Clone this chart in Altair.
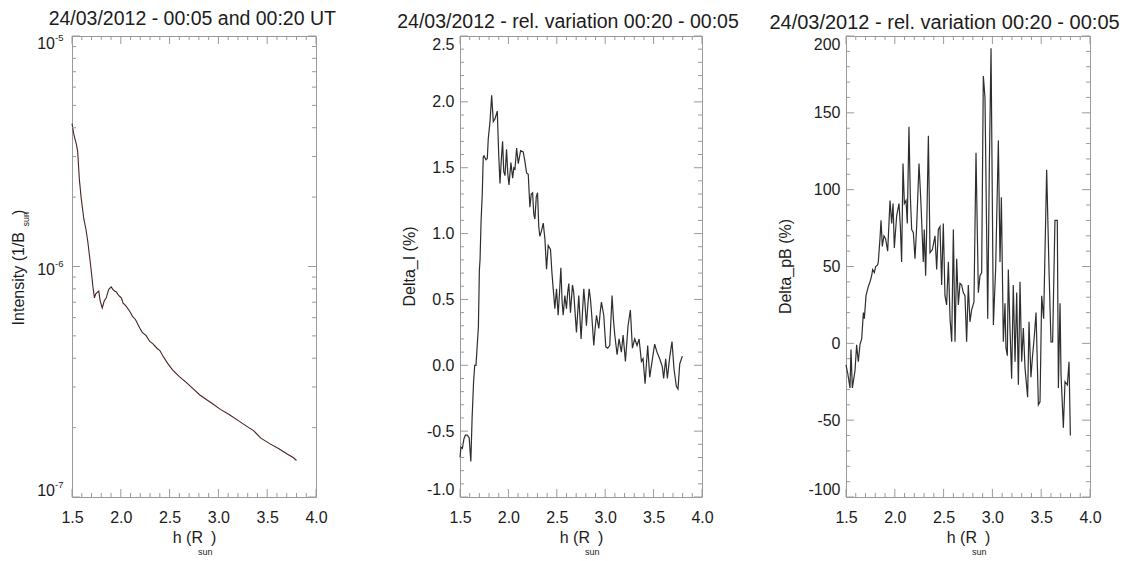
import altair as alt
import pandas as pd

FONT = "Liberation Sans"
TXT = "#1c1c1c"
FRAME = "#9a9a9a"

# ---------------- data ----------------
# Panel 1: intensity (1/B_sun) vs h (R_sun)
h1 = [1.500, 1.520, 1.545, 1.558, 1.575, 1.593, 1.620, 1.644, 1.661, 1.690, 1.715,
      1.730, 1.742, 1.754, 1.774, 1.789, 1.810, 1.830, 1.851, 1.875, 1.902, 1.920,
      1.936, 1.955, 1.970, 1.990, 2.006, 2.022, 2.050, 2.091, 2.120, 2.150, 2.194,
      2.220, 2.260, 2.297, 2.330, 2.370, 2.400, 2.430, 2.480, 2.530, 2.600, 2.670,
      2.740, 2.810, 2.880, 2.940, 3.020, 3.110, 3.200, 3.280, 3.360, 3.435, 3.530,
      3.620, 3.700, 3.770, 3.800]
intensity = [4.17e-6, 3.72e-6, 3.39e-6, 3.16e-6, 2.40e-6, 2.00e-6, 1.62e-6, 1.44e-6,
             1.29e-6, 1.02e-6, 8.13e-7, 7.31e-7, 7.59e-7, 7.69e-7, 7.82e-7, 7.08e-7,
             6.61e-7, 7.08e-7, 7.31e-7, 7.94e-7, 8.15e-7, 7.94e-7, 7.82e-7, 7.76e-7,
             7.57e-7, 7.41e-7, 7.31e-7, 6.95e-7, 6.76e-7, 6.40e-7, 6.08e-7, 5.89e-7,
             5.41e-7, 5.18e-7, 5.01e-7, 4.73e-7, 4.62e-7, 4.42e-7, 4.32e-7, 4.10e-7,
             3.80e-7, 3.56e-7, 3.33e-7, 3.14e-7, 2.95e-7, 2.77e-7, 2.64e-7, 2.54e-7,
             2.40e-7, 2.28e-7, 2.15e-7, 2.04e-7, 1.94e-7, 1.80e-7, 1.70e-7, 1.62e-7,
             1.54e-7, 1.48e-7, 1.44e-7]

# Panel 2: relative variation of intensity (%)
dI_points = [
    (1.500, -0.70), (1.510, -0.62), (1.525, -0.63), (1.540, -0.56), (1.555, -0.53),
    (1.575, -0.53), (1.595, -0.55), (1.605, -0.66), (1.612, -0.73), (1.625, -0.40),
    (1.640, -0.13), (1.652, 0.00), (1.665, 0.00), (1.678, 0.15), (1.690, 0.29),
    (1.700, 0.72), (1.707, 0.80), (1.718, 1.10), (1.730, 1.30), (1.740, 1.58),
    (1.748, 1.59), (1.768, 1.56), (1.782, 1.57), (1.792, 1.72), (1.810, 1.85),
    (1.827, 2.05), (1.844, 1.85), (1.861, 1.87), (1.885, 1.93), (1.900, 1.60),
    (1.913, 1.38), (1.926, 1.55), (1.940, 1.70), (1.952, 1.47), (1.965, 1.44),
    (1.981, 1.64), (1.994, 1.45), (2.006, 1.37), (2.026, 1.54), (2.044, 1.42),
    (2.056, 1.50), (2.068, 1.49), (2.085, 1.65), (2.102, 1.53), (2.126, 1.63),
    (2.153, 1.62), (2.170, 1.55), (2.188, 1.46), (2.205, 1.45), (2.222, 1.20),
    (2.236, 1.30), (2.250, 1.31), (2.262, 1.15), (2.274, 1.11), (2.288, 1.28),
    (2.301, 1.31), (2.314, 1.05), (2.325, 0.98), (2.342, 1.02), (2.360, 1.08),
    (2.377, 0.96), (2.394, 0.73), (2.411, 0.91), (2.435, 0.88), (2.450, 0.70),
    (2.463, 0.58), (2.480, 0.43), (2.497, 0.58), (2.514, 0.38), (2.528, 0.55),
    (2.542, 0.74), (2.555, 0.48), (2.566, 0.38), (2.583, 0.53), (2.600, 0.43),
    (2.612, 0.55), (2.624, 0.62), (2.641, 0.40), (2.662, 0.61), (2.675, 0.55),
    (2.686, 0.43), (2.703, 0.25), (2.727, 0.53), (2.740, 0.35), (2.751, 0.20),
    (2.765, 0.40), (2.779, 0.58), (2.793, 0.45), (2.806, 0.30), (2.820, 0.45),
    (2.834, 0.58), (2.848, 0.50), (2.861, 0.38), (2.882, 0.15), (2.896, 0.28),
    (2.910, 0.38), (2.934, 0.28), (2.948, 0.40), (2.961, 0.48), (2.985, 0.38),
    (3.006, 0.14), (3.025, 0.13), (3.047, 0.15), (3.071, 0.53), (3.085, 0.35),
    (3.099, 0.23), (3.123, 0.08), (3.143, 0.20), (3.167, 0.10), (3.185, 0.23),
    (3.209, 0.03), (3.236, 0.30), (3.260, 0.42), (3.281, 0.13), (3.305, 0.20),
    (3.329, 0.15), (3.350, 0.20), (3.374, 0.03), (3.391, 0.05), (3.412, -0.14),
    (3.439, 0.15), (3.460, -0.09), (3.484, 0.03), (3.511, 0.16), (3.535, 0.10),
    (3.563, 0.05), (3.590, -0.01), (3.604, -0.10), (3.625, 0.05), (3.642, -0.10),
    (3.666, 0.06), (3.690, 0.18), (3.711, -0.03), (3.735, -0.16), (3.752, -0.18),
    (3.770, 0.01), (3.797, 0.07)]
h2 = [p[0] for p in dI_points]
delta_I = [p[1] for p in dI_points]

# Panel 3: relative variation of pB (%)
dpB_points = [
    (1.500, -14), (1.524, -22), (1.541, -29), (1.551, -4), (1.565, -29), (1.592, -18),
    (1.609, -1), (1.626, -12), (1.643, -1), (1.661, 3), (1.678, 20), (1.688, 16),
    (1.705, 31), (1.729, 37), (1.746, 40), (1.763, 44), (1.773, 48), (1.790, 46),
    (1.804, 50), (1.824, 51), (1.831, 53), (1.848, 68), (1.859, 80), (1.872, 63),
    (1.889, 70), (1.906, 68), (1.927, 60), (1.951, 93), (1.968, 78), (1.982, 91),
    (1.995, 62), (2.019, 83), (2.043, 91), (2.057, 76), (2.070, 53), (2.084, 117),
    (2.098, 91), (2.115, 93), (2.128, 78), (2.145, 141), (2.159, 96), (2.173, 74),
    (2.190, 72), (2.207, 55), (2.224, 76), (2.248, 117), (2.268, 91), (2.292, 53),
    (2.302, 74), (2.316, 44), (2.326, 72), (2.344, 135), (2.361, 59), (2.385, 61),
    (2.412, 70), (2.429, 48), (2.446, 74), (2.463, 76), (2.480, 38), (2.497, 78),
    (2.514, 31), (2.531, 25), (2.549, 53), (2.566, 16), (2.583, 1), (2.600, 74),
    (2.617, 1), (2.634, 55), (2.651, 25), (2.668, 39), (2.685, 38), (2.702, 33),
    (2.719, 31), (2.736, 1), (2.753, 38), (2.770, 14), (2.788, 22), (2.811, 27),
    (2.832, 124), (2.856, 33), (2.873, 44), (2.890, 46), (2.907, 174), (2.924, 160),
    (2.952, 16), (2.969, 117), (2.986, 192), (3.010, 12), (3.033, 48), (3.061, 132),
    (3.078, 53), (3.092, 95), (3.112, 1), (3.129, 26), (3.139, -3), (3.153, -8),
    (3.163, 48), (3.180, 10), (3.197, -23), (3.214, 38), (3.232, -12), (3.249, 33),
    (3.266, -27), (3.283, 40), (3.300, -12), (3.317, 10), (3.334, -16), (3.361, -35),
    (3.375, 14), (3.395, -22), (3.409, -10), (3.430, 5), (3.447, 20), (3.471, -40),
    (3.488, -38), (3.505, 31), (3.525, 16), (3.556, 113), (3.580, 48), (3.600, 1),
    (3.617, 1), (3.641, 80), (3.665, 80), (3.676, -29), (3.693, 26), (3.703, -20),
    (3.727, -55), (3.744, -25), (3.768, -27), (3.785, -12), (3.799, -60)]
h3 = [p[0] for p in dpB_points]
delta_pB = [p[1] for p in dpB_points]

titles = ["24/03/2012 - 00:05 and 00:20 UT",
          "24/03/2012 - rel. variation 00:20 - 00:05",
          "24/03/2012 - rel. variation 00:20 - 00:05"]

# tick values
x_major = [1.5, 2.0, 2.5, 3.0, 3.5, 4.0]
x_minor = [1.6, 1.7, 1.8, 1.9, 2.1, 2.2, 2.3, 2.4, 2.6, 2.7, 2.8, 2.9,
           3.1, 3.2, 3.3, 3.4, 3.6, 3.7, 3.8, 3.9]
y1_major = [1e-7, 1e-6, 1e-5]
y1_exp = ["-7", "-6", "-5"]
y1_minor = [k * 1e-7 for k in range(2, 10)] + [k * 1e-6 for k in range(2, 10)]
y2_major = [-1.0, -0.5, 0.0, 0.5, 1.0, 1.5, 2.0, 2.5]
y2_minor = [round(-1.0 + 0.1 * i, 2) for i in range(36) if i % 5 != 0]
y3_major = [-100, -50, 0, 50, 100, 150, 200]
y3_minor = [-100 + 10 * i for i in range(31) if i % 5 != 0]

# ---------------- layout ----------------
W = [244, 242, 244]
H = 461
SPACING = 144
MAJ, MIN = 8, 4
LFS = 16

MINUS_FIX = "replace(format(datum.value, '{f}'), '\u2212', '-')"


def text_layer(text, x, y, fs, align, angle=None):
    kw = dict(font=FONT, fontSize=fs, color=TXT, align=align, baseline="alphabetic")
    if angle is not None:
        kw["angle"] = angle
    return alt.Chart(pd.DataFrame({"t": [text]})).mark_text(**kw).encode(
        text="t:N", x=alt.value(x), y=alt.value(y))


def build_panel(df, yfield, yscale, w, color, sw, title, title_fs, title_dx,
                y_major, y_minor, y_fmt, extra_layers):
    xs = alt.Scale(domain=[1.5, 4.0], nice=False, zero=False)
    x_lab_axis = alt.Axis(orient="bottom", values=x_major,
                          labelExpr=MINUS_FIX.format(f=".1f"),
                          labelFontSize=LFS, labelFont=FONT, labelColor=TXT,
                          labelPadding=12, labelFlush=False, labelOverlap=False,
                          ticks=False, tickSize=0, domain=False, grid=False, title=None)
    if y_fmt is None:
        y_lab_axis = None
    else:
        y_lab_axis = alt.Axis(orient="left", values=y_major,
                              labelExpr=MINUS_FIX.format(f=y_fmt),
                              labelFontSize=LFS, labelFont=FONT, labelColor=TXT,
                              labelPadding=6, labelFlush=True, labelOverlap=False,
                              ticks=False, tickSize=0, domain=False, grid=False,
                              title=None)
    main = alt.Chart(df).mark_line(color=color, strokeWidth=sw).encode(
        x=alt.X("h:Q", scale=xs, axis=x_lab_axis),
        y=alt.Y(f"{yfield}:Q", scale=yscale, axis=y_lab_axis))

    # inward ticks on all four sides, placed through the shared scales
    ticks = []
    for vals, size in ((x_major, MAJ), (x_minor, MIN)):
        d = alt.Chart(pd.DataFrame({"tx": vals}))
        enc_x = alt.X("tx:Q", scale=xs)
        ticks.append(d.mark_rule(color=FRAME, strokeWidth=1).encode(
            x=enc_x, y=alt.value(H), y2=alt.value(H - size)))
        ticks.append(d.mark_rule(color=FRAME, strokeWidth=1).encode(
            x=enc_x, y=alt.value(0), y2=alt.value(size)))
    for vals, size in ((y_major, MAJ), (y_minor, MIN)):
        d = alt.Chart(pd.DataFrame({"ty": vals}))
        enc_y = alt.Y("ty:Q", scale=yscale)
        ticks.append(d.mark_rule(color=FRAME, strokeWidth=1).encode(
            y=enc_y, x=alt.value(0), x2=alt.value(size)))
        ticks.append(d.mark_rule(color=FRAME, strokeWidth=1).encode(
            y=enc_y, x=alt.value(w), x2=alt.value(w - size)))

    cx = w / 2
    xtitle = [
        text_layer("h (R", cx + 9, H + 46, LFS, "right"),
        text_layer("sun", cx + 4, H + 58, 9, "left"),
        text_layer(")", cx + 17, H + 46, LFS, "left"),
    ]
    layers = [main] + ticks + xtitle + extra_layers
    return alt.layer(*layers).properties(
        width=w, height=H,
        title=alt.TitleParams(title, fontSize=title_fs, font=FONT, fontWeight="normal",
                              color=TXT, anchor="middle", frame="group", offset=3,
                              dx=title_dx)
    )


# Panel 1 (log scale): "10" with a raised exponent, end labels kept inside the frame
ys1 = alt.Scale(type="log", domain=[1e-7, 1e-5], nice=False)
df1 = pd.DataFrame({"h": h1, "intensity": intensity})
label_dy = {1e-7: -1, 1e-6: 8.5, 1e-5: 12.5}
log_labels = []
for val, ex in zip(y1_major, y1_exp):
    lab = alt.Chart(pd.DataFrame({"v": [val], "base": ["10"], "exp": [ex]}))
    log_labels.append(lab.mark_text(font=FONT, fontSize=LFS, color=TXT, align="right",
                                    baseline="alphabetic", dy=label_dy[val]).encode(
        y=alt.Y("v:Q", scale=ys1), x=alt.value(-17), text="base:N"))
    log_labels.append(lab.mark_text(font=FONT, fontSize=9.5, color=TXT, align="left",
                                    baseline="alphabetic", dy=label_dy[val] - 8).encode(
        y=alt.Y("v:Q", scale=ys1), x=alt.value(-17), text="exp:N"))
ytitle1 = [
    text_layer("Intensity (1/B", -47.7, H / 2 - 34.5, LFS, "right", angle=270),
    text_layer("sun", -43.5, H / 2 - 40, 9, "left", angle=270),
    text_layer(")", -47.7, H / 2 - 51.5, LFS, "left", angle=270),
]
p1 = build_panel(df1, "intensity", ys1, W[0], "#4a2222", 1.1, titles[0], 19.5, -1.7,
                 y1_major, y1_minor, None, log_labels + ytitle1)

# Panel 2
ys2 = alt.Scale(domain=[-1.0, 2.5], nice=False, zero=False)
df2 = pd.DataFrame({"h": h2, "delta_I": delta_I})
p2 = build_panel(df2, "delta_I", ys2, W[1], "#2e2e2e", 1.2, titles[1], 19.5, -13,
                 y2_major, y2_minor, ".1f",
                 [text_layer("Delta_I (%)", -45.5, H / 2, LFS, "center", angle=270)])

# Panel 3
ys3 = alt.Scale(domain=[-100, 200], nice=False, zero=False)
df3 = pd.DataFrame({"h": h3, "delta_pB": delta_pB})
p3 = build_panel(df3, "delta_pB", ys3, W[2], "#2e2e2e", 1.2, titles[2], 20, -23.5,
                 y3_major, y3_minor, ".0f",
                 [text_layer("Delta_pB (%)", -55, H / 2, LFS, "center", angle=270)])

chart = alt.hconcat(p1, p2, p3, spacing=SPACING, bounds="flush").configure_view(
    stroke=FRAME, strokeWidth=1
).properties(padding={"left": 2, "top": 0, "right": 0, "bottom": 0})

chart.save("out.html", embed_options={"renderer": "svg", "actions": False})
